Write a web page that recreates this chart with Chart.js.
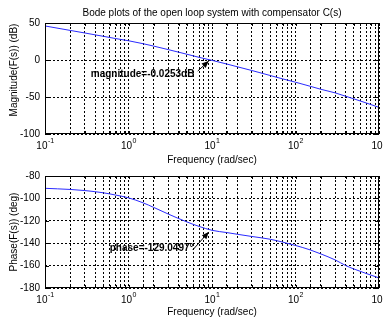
<!DOCTYPE html>
<html lang="en">
<head>
    <meta charset="UTF-8">
    <title>Bode plots</title>
    <style>
        body { margin: 0; background: #fff; }
        #wrap { position: relative; width: 383px; height: 322px; overflow: hidden; }
        canvas { position: absolute; left: 0; }
    </style>
</head>
<body>
    <div id="wrap">
        <canvas id="magChart" width="383" height="170" style="top:0"></canvas>
        <canvas id="phaseChart" width="383" height="162" style="top:160px"></canvas>
    </div>

    <script src="https://cdn.jsdelivr.net/npm/chart.js"></script>

    <script>
        // values
        var freq = [0.1, 0.2, 0.3, 0.5, 0.7, 1, 1.5, 2, 3, 5, 7, 10, 15, 20, 30, 50, 70, 100, 150, 200, 300, 400, 500, 700, 1000];
        var magDb = [46, 40, 36.5, 32, 29, 26, 22, 18.8, 14, 7.8, 3.6, -0.5, -5.4, -9.1, -14.2, -21, -25.5, -30, -35.5, -39.5, -44.5, -49, -52.5, -58, -64];
        var phaseDeg = [-91, -92, -93, -95, -97, -99.5, -104, -108, -114, -121, -125, -128.5, -130.5, -132, -134, -136.5, -139, -142, -146, -149.5, -155, -160, -163, -167, -171];
        var decades = [0.1, 1, 10, 100, 1000];
        var decadeExp = ['-1', '0', '1', '2', '3'];
        var magTicks = [50, 0, -50, -100];
        var phaseTicks = [-80, -100, -120, -140, -160, -180];

        // crossover marker
        var crossFreq = 9.4;
        var crossMag = -0.0253;
        var crossPhase = -129.0497;

        var FONT = '"Liberation Sans", Arial, Helvetica, sans-serif';

        function toPoints(ys) {
            return freq.map(function (f, i) { return { x: f, y: ys[i] }; });
        }

        function arrow(ctx, x0, y0, x1, y1) {
            ctx.save();
            ctx.strokeStyle = '#000';
            ctx.fillStyle = '#000';
            ctx.lineWidth = 1;
            ctx.beginPath();
            ctx.moveTo(x0, y0);
            ctx.lineTo(x1, y1);
            ctx.stroke();
            var a = Math.atan2(y1 - y0, x1 - x0);
            var len = 7, w = 3;
            ctx.beginPath();
            ctx.moveTo(x1, y1);
            ctx.lineTo(x1 - len * Math.cos(a) + w * Math.sin(a), y1 - len * Math.sin(a) - w * Math.cos(a));
            ctx.lineTo(x1 - len * Math.cos(a) - w * Math.sin(a), y1 - len * Math.sin(a) + w * Math.cos(a));
            ctx.closePath();
            ctx.fill();
            ctx.restore();
        }

        function bodePlugin(cfg) {
            return {
                id: 'bode',
                afterDraw: function (chart) {
                    var ctx = chart.ctx;
                    var a = chart.chartArea;
                    var xs = chart.scales.x, ys = chart.scales.y;
                    ctx.save();

                    // box
                    ctx.strokeStyle = '#000';
                    ctx.lineWidth = 1;
                    ctx.strokeRect(Math.round(a.left) + 0.5, Math.round(a.top) + 0.5,
                        Math.round(a.right - a.left) - 1, Math.round(a.bottom - a.top) - 1);

                    // inward tick marks
                    ctx.beginPath();
                    xs.ticks.forEach(function (t) {
                        var px = Math.round(xs.getPixelForValue(t.value)) + 0.5;
                        ctx.moveTo(px, a.bottom); ctx.lineTo(px, a.bottom - 3);
                        ctx.moveTo(px, a.top); ctx.lineTo(px, a.top + 3);
                    });
                    ys.ticks.forEach(function (t) {
                        var py = Math.round(ys.getPixelForValue(t.value)) + 0.5;
                        ctx.moveTo(a.left, py); ctx.lineTo(a.left + 4, py);
                        ctx.moveTo(a.right, py); ctx.lineTo(a.right - 4, py);
                    });
                    ctx.stroke();

                    // x tick labels 10^n
                    ctx.fillStyle = '#000';
                    ctx.textBaseline = 'alphabetic';
                    decades.forEach(function (d, i) {
                        var px = xs.getPixelForValue(d);
                        ctx.font = '10px ' + FONT;
                        var wBase = ctx.measureText('10').width;
                        ctx.font = '7px ' + FONT;
                        var wExp = ctx.measureText(decadeExp[i]).width;
                        var x0 = px - (wBase + wExp) / 2;
                        var base = a.bottom + cfg.tickDy;
                        ctx.font = '10px ' + FONT;
                        ctx.textAlign = 'left';
                        ctx.fillText('10', x0, base);
                        ctx.font = '7px ' + FONT;
                        ctx.fillText(decadeExp[i], x0 + wBase + 0.5, base - 6);
                    });

                    // x axis title
                    ctx.font = '10px ' + FONT;
                    ctx.textAlign = 'center';
                    ctx.textBaseline = 'middle';
                    ctx.fillText('Frequency (rad/sec)', (a.left + a.right) / 2, cfg.xTitleY);

                    // title
                    if (cfg.title) {
                        ctx.fillText(cfg.title, (a.left + a.right) / 2, 13);
                    }

                    // y axis title
                    ctx.save();
                    ctx.translate(14, cfg.yTitleY);
                    ctx.rotate(-Math.PI / 2);
                    ctx.fillText(cfg.yTitle, 0, 0);
                    ctx.restore();

                    // annotation
                    var px = xs.getPixelForValue(crossFreq);
                    var py = ys.getPixelForValue(cfg.markValue);
                    ctx.font = 'bold 10px ' + FONT;
                    ctx.textAlign = 'left';
                    ctx.textBaseline = 'middle';
                    ctx.fillText(cfg.markText, px + cfg.textDx, py + cfg.textDy);
                    arrow(ctx, px + cfg.arrowDx, py + cfg.arrowDy, px - 1, py + 1);

                    ctx.restore();
                }
            };
        }

        function makeChart(id, ys, yMin, yMax, yStep, xAxisHeight, padTop, cfg) {
            return new Chart(document.getElementById(id), {
                type: 'line',
                data: {
                    datasets: [{
                        data: toPoints(ys),
                        borderColor: '#2a2aff',
                        borderWidth: 1,
                        pointRadius: 0,
                        cubicInterpolationMode: 'monotone',
                        fill: false
                    }]
                },
                options: {
                    responsive: false,
                    animation: false,
                    devicePixelRatio: 1,
                    layout: { padding: { top: padTop, right: 4, left: 0, bottom: 0 } },
                    plugins: { legend: { display: false }, tooltip: { enabled: false } },
                    scales: {
                        x: {
                            type: 'logarithmic',
                            min: 0.1,
                            max: 1000,
                            border: { display: false, dash: [2, 2] },
                            grid: { color: '#000', lineWidth: 1, drawTicks: false },
                            ticks: { display: false, autoSkip: false },
                            afterFit: function (s) { s.height = xAxisHeight; }
                        },
                        y: {
                            min: yMin,
                            max: yMax,
                            border: { display: false, dash: [2, 2] },
                            grid: { color: '#000', lineWidth: 1, drawTicks: false },
                            ticks: {
                                stepSize: yStep,
                                padding: 5,
                                color: '#000',
                                font: { family: FONT, size: 10 }
                            },
                            afterFit: function (s) { s.width = 45; }
                        }
                    }
                },
                plugins: [bodePlugin(cfg)]
            });
        }

        makeChart('magChart', magDb, magTicks[3], magTicks[0], 50, 36, 23, {
            title: 'Bode plots of the open loop system with compensator C(s)',
            yTitle: 'Magnitude(F(s)) (dB)',
            yTitleY: 70,
            xTitleY: 160,
            tickDy: 15,
            markValue: crossMag,
            markText: 'magnitude=-0.0253dB',
            textDx: -119, textDy: 14,
            arrowDx: -12, arrowDy: 11
        });

        makeChart('phaseChart', phaseDeg, phaseTicks[5], phaseTicks[0], 20, 34, 16, {
            title: null,
            yTitle: 'Phase(F(s)) (deg)',
            yTitleY: 72,
            xTitleY: 152,
            tickDy: 15,
            markValue: crossPhase,
            markText: 'phase=-129.0497°',
            textDx: -100, textDy: 17,
            arrowDx: -17, arrowDy: 19
        });
    </script>
</body>
</html>
